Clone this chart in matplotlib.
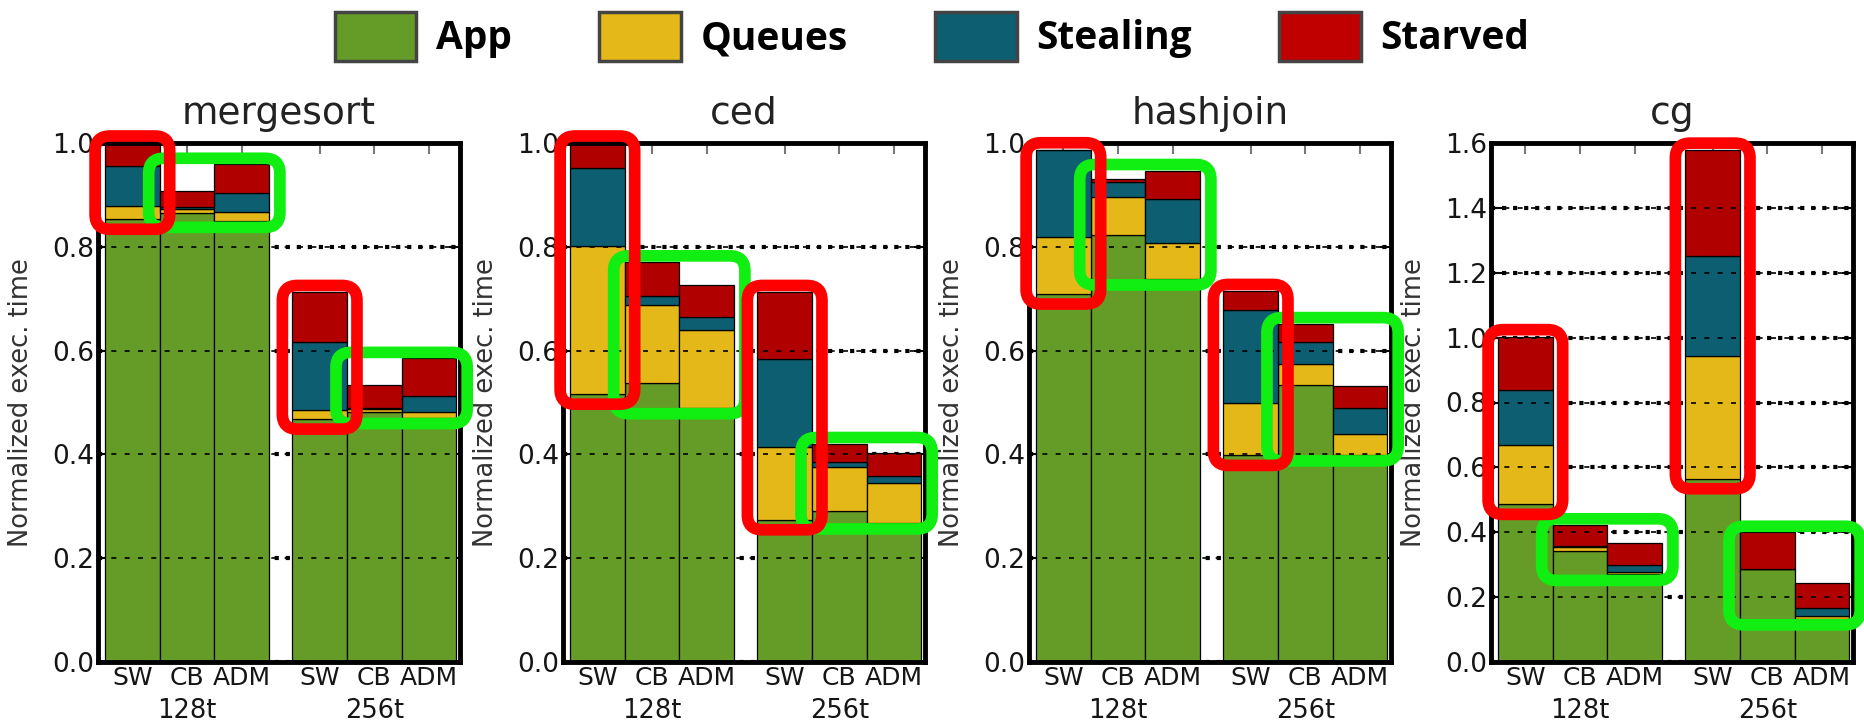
import matplotlib
matplotlib.use("Agg")
import matplotlib.pyplot as plt
import numpy as np
from matplotlib.patches import FancyBboxPatch, Patch
from matplotlib.ticker import FormatStrFormatter, MultipleLocator
from matplotlib.transforms import IdentityTransform, blended_transform_factory

# data
benchmarks = ['mergesort', 'ced', 'hashjoin', 'cg']
schemes = ['SW', 'CB', 'ADM', 'SW', 'CB', 'ADM']
threads = ['128t', '256t']
components = ['App', 'Queues', 'Stealing', 'Starved']
y_max = [1.0, 1.0, 1.0, 1.6]

# one row per benchmark, columns: SW CB ADM (128t), SW CB ADM (256t)
app_time = [
    [0.853, 0.865, 0.849, 0.468, 0.482, 0.471],
    [0.516, 0.538, 0.490, 0.274, 0.290, 0.268],
    [0.709, 0.823, 0.738, 0.398, 0.534, 0.399],
    [0.486, 0.343, 0.270, 0.565, 0.286, 0.133],
]
queues_time = [
    [0.026, 0.008, 0.018, 0.018, 0.006, 0.011],
    [0.286, 0.149, 0.149, 0.140, 0.085, 0.076],
    [0.110, 0.072, 0.070, 0.102, 0.040, 0.041],
    [0.183, 0.010, 0.006, 0.378, 0.000, 0.009],
]
stealing_time = [
    [0.076, 0.003, 0.036, 0.131, 0.002, 0.030],
    [0.150, 0.018, 0.025, 0.169, 0.010, 0.015],
    [0.168, 0.030, 0.085, 0.179, 0.043, 0.050],
    [0.169, 0.005, 0.022, 0.308, 0.000, 0.023],
]
starved_time = [
    [0.045, 0.031, 0.056, 0.095, 0.044, 0.073],
    [0.048, 0.066, 0.062, 0.129, 0.036, 0.043],
    [0.000, 0.006, 0.054, 0.035, 0.035, 0.042],
    [0.165, 0.065, 0.070, 0.327, 0.114, 0.080],
]

colors = ['#659c27', '#e5b81a', '#0d5e70', '#b00000']
legend_colors = ['#659c27', '#e5b81a', '#0d5e70', '#c00000']

W, H = 1864, 723
fig = plt.figure(figsize=(W / 100, H / 100), dpi=100)
axes_left = [98, 563, 1029, 1491]
xpos = np.array([0, 1, 2, 3.43, 4.43, 5.43])


def highlight(ax, x0, x1, y0, y1, color, pad_x, pad_top, pad_bot):
    px0, py0 = ax.transData.transform((x0, y0))
    px1, py1 = ax.transData.transform((x1, y1))
    box = FancyBboxPatch((px0 - pad_x, py0 - pad_bot),
                         (px1 - px0) + 2 * pad_x, (py1 - py0) + pad_top + pad_bot,
                         boxstyle='round,pad=0,rounding_size=15',
                         transform=IdentityTransform(), fill=False,
                         edgecolor=color, linewidth=8.4, zorder=5)
    fig.add_artist(box)


all_series = [app_time, queues_time, stealing_time, starved_time]
red_boxes = []
green_boxes = []
for i, name in enumerate(benchmarks):
    ax = fig.add_axes([axes_left[i] / W, 61 / H, 362 / W, 519 / H])
    bottom = np.zeros(len(xpos))
    for series, color in zip(all_series, colors):
        vals = np.array(series[i])
        ax.bar(xpos, vals, width=1.0, bottom=bottom, color=color,
               edgecolor='black', linewidth=0.9, zorder=2)
        bottom = bottom + vals
    total = bottom
    app = np.array(app_time[i])

    ax.set_xlim(-0.63, 6.0)
    ax.set_ylim(0, y_max[i])
    ax.yaxis.set_major_locator(MultipleLocator(0.2))
    ax.yaxis.set_major_formatter(FormatStrFormatter('%.1f'))

    ax.set_axisbelow(True)
    ax.yaxis.grid(True, linestyle=':', linewidth=3, color='black')
    for y in ax.get_yticks():
        if 0 < y < y_max[i] - 1e-6:
            ax.axhline(y, color='black', linewidth=1.2, dashes=(3, 5), zorder=3)

    ax.set_xticks(xpos)
    ax.set_xticklabels(schemes, fontsize=18, color='#151515')
    ax.tick_params(axis='y', labelsize=19, labelcolor='#151515')
    ax.tick_params(axis='both', direction='in', top=True, right=True,
                   length=8, width=1.5, pad=3)
    ax.tick_params(axis='x', color='#777')
    for sp in ax.spines.values():
        sp.set_linewidth(3.5)

    trans = blended_transform_factory(ax.transData, ax.transAxes)
    for g, label in enumerate(threads):
        ax.text(xpos[3 * g + 1], -0.094, label, transform=trans,
                ha='center', va='center', fontsize=18.5, color='#151515')

    ax.set_ylabel('Normalized exec. time', fontsize=18.5, color='#333')
    ax.yaxis.set_label_coords(-0.177, 0.5)
    ax.set_title(name, fontsize=27, pad=14, color='#222')

    for g in range(len(threads)):
        sw = 3 * g
        red_boxes.append((ax, xpos[sw] - 0.5, xpos[sw] + 0.5,
                          app[sw], total[sw]))
        green_boxes.append((ax, xpos[sw + 1] - 0.5, xpos[sw + 2] + 0.5,
                            app[sw + 1:sw + 3].min(), total[sw + 1:sw + 3].max()))

# green boxes first, red on top
for b in green_boxes:
    highlight(*b, '#11ee11', 11, 6, 6)
for b in red_boxes:
    highlight(*b, '#ff0000', 10, 7, 10)

handles = [Patch(facecolor=c, edgecolor='#444', linewidth=2.5) for c in legend_colors]
fig.legend(handles, components, loc='center', bbox_to_anchor=(0.5, 1 - 36.5 / H),
           ncol=4, frameon=False,
           prop={'family': 'Open Sans', 'weight': 'bold', 'size': 28},
           handlelength=2.1, handleheight=1.6, handletextpad=0.5,
           columnspacing=2.25)

fig.savefig('out.png', dpi=100)
